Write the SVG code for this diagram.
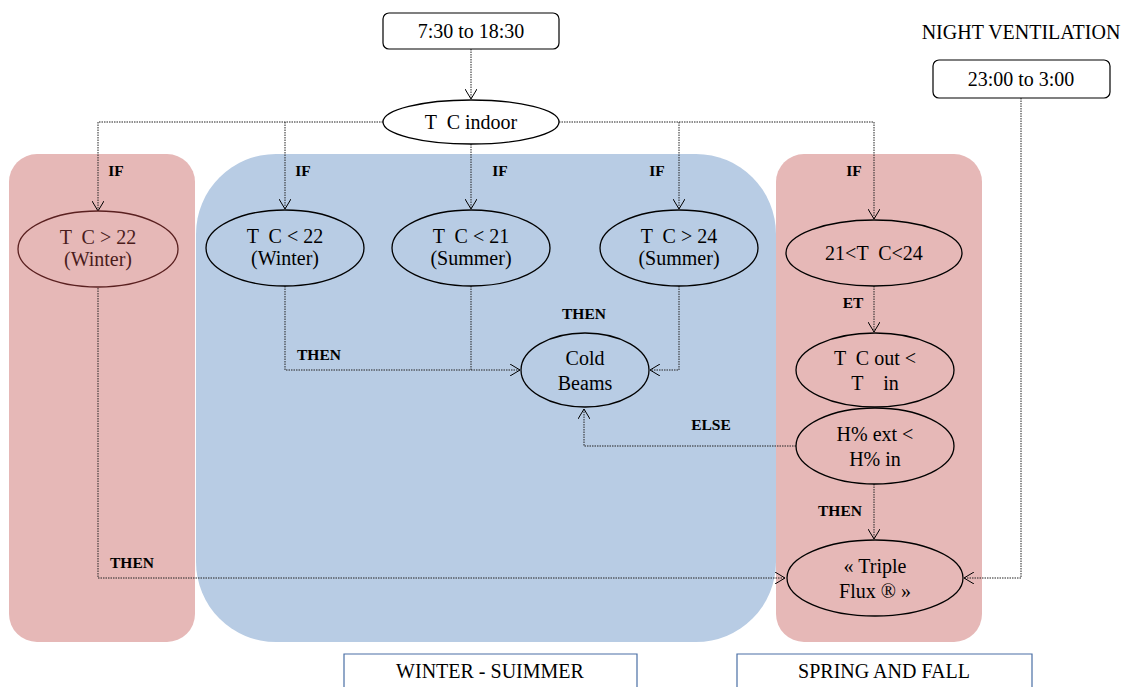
<svg xmlns="http://www.w3.org/2000/svg" width="1131" height="687" viewBox="0 0 1131 687">
<defs>
<marker id="ah" viewBox="0 0 10 12" refX="10" refY="6" markerWidth="10" markerHeight="12" markerUnits="userSpaceOnUse" orient="auto">
<path d="M0,0 L10,6 L0,12" fill="none" stroke="#000" stroke-width="1"/>
</marker>
</defs>
<style>
.t{font-family:"Liberation Serif","Times New Roman",serif;font-size:20px;fill:#000;text-anchor:middle;white-space:pre}
.lb{font-family:"Liberation Serif","Times New Roman",serif;font-size:15.5px;font-weight:bold;fill:#000;text-anchor:middle}
.el{fill:none;stroke:#000;stroke-width:1.3}
.box{fill:#fff;stroke:#000;stroke-width:1.2}
.c{fill:none;stroke:#222;stroke-width:1;stroke-dasharray:1.5 1}
.ca{fill:none;stroke:#222;stroke-width:1;stroke-dasharray:1.5 1;marker-end:url(#ah)}
.sb{fill:#fff;stroke:#4a6fa5;stroke-width:1.2}
</style>
<g id="panels">
<rect x="9" y="154" width="186" height="488" rx="28" fill="#e6b8b7"/>
<rect x="196" y="154" width="580" height="488" rx="80" fill="#b8cce4"/>
<rect x="776" y="154" width="206" height="488" rx="28" fill="#e6b8b7"/>
</g>
<g id="connectors">
<path class="ca" d="M471,49 V99"/>
<path class="ca" d="M383,122 H98 V211"/>
<path class="ca" d="M559,122 H874 V219"/>
<path class="ca" d="M285,122 V209"/>
<path class="ca" d="M471,144 V209"/>
<path class="ca" d="M679,122 V209"/>
<path class="ca" d="M874,286 V332"/>
<path class="ca" d="M874,484 V539"/>
<path class="ca" d="M285,286 V370 H520"/>
<path class="c" d="M471,286 V370"/>
<path class="ca" d="M679,286 V370 H650"/>
<path class="ca" d="M796,446 H584 V409"/>
<path class="ca" d="M98,288 V578 H785"/>
<path class="ca" d="M1021,98 V578 H964"/>
</g>
<g id="n-time"><rect class="box" x="383" y="13" width="176" height="36" rx="6"/><text class="t" x="471" y="38">7:30 to 18:30</text></g>
<g id="n-indoor"><ellipse cx="471" cy="122" rx="88" ry="22" fill="#fff" stroke="#000" stroke-width="1.3"/><text class="t" x="471" y="129">T  C indoor</text></g>
<g id="n-night"><text class="t" x="1021" y="39">NIGHT VENTILATION</text><rect class="box" x="933" y="60" width="177" height="38" rx="6"/><text class="t" x="1021" y="86">23:00 to 3:00</text></g>
<g id="n-w22"><ellipse cx="98" cy="249" rx="80" ry="38" fill="none" stroke="#5a2020" stroke-width="1.3"/><text class="t" x="98" y="244" style="fill:#4a1c1c">T  C &gt; 22</text><text class="t" x="98" y="266" style="fill:#4a1c1c">(Winter)</text></g>
<g id="n-lt22"><ellipse class="el" cx="285" cy="248" rx="79" ry="38"/><text class="t" x="285" y="243">T  C &lt; 22</text><text class="t" x="285" y="265">(Winter)</text></g>
<g id="n-lt21"><ellipse class="el" cx="471" cy="248" rx="79" ry="38"/><text class="t" x="471" y="243">T  C &lt; 21</text><text class="t" x="471" y="265">(Summer)</text></g>
<g id="n-gt24"><ellipse class="el" cx="679" cy="248" rx="79" ry="38"/><text class="t" x="679" y="243">T  C &gt; 24</text><text class="t" x="679" y="265">(Summer)</text></g>
<g id="n-mid"><ellipse class="el" cx="874" cy="253" rx="88" ry="33"/><text class="t" x="874" y="260">21&lt;T  C&lt;24</text></g>
<g id="n-tout"><ellipse class="el" cx="875" cy="370" rx="79" ry="37"/><text class="t" x="875" y="365">T  C out &lt;</text><text class="t" x="875" y="390">T    in</text></g>
<g id="n-hum"><ellipse class="el" cx="875" cy="446" rx="79" ry="38"/><text class="t" x="875" y="441">H% ext &lt;</text><text class="t" x="875" y="466">H% in</text></g>
<g id="n-flux"><ellipse class="el" cx="875" cy="578" rx="88" ry="38"/><text class="t" x="875" y="573">« Triple</text><text class="t" x="875" y="598">Flux ® »</text></g>
<g id="n-cold"><ellipse class="el" cx="585" cy="370" rx="64" ry="37"/><text class="t" x="585" y="365">Cold</text><text class="t" x="585" y="390">Beams</text></g>
<g id="labels">
<text class="lb" x="116" y="176">IF</text>
<text class="lb" x="303" y="176">IF</text>
<text class="lb" x="500" y="176">IF</text>
<text class="lb" x="657" y="176">IF</text>
<text class="lb" x="854" y="176">IF</text>
<text class="lb" x="584" y="319">THEN</text>
<text class="lb" x="319" y="360">THEN</text>
<text class="lb" x="711" y="430">ELSE</text>
<text class="lb" x="853" y="308">ET</text>
<text class="lb" x="840" y="516">THEN</text>
<text class="lb" x="132" y="568">THEN</text>
</g>
<g id="seasons">
<path class="sb" d="M344,690 V654 H637 V690"/>
<text class="t" x="490" y="678">WINTER - SUIMMER</text>
<path class="sb" d="M737,690 V654 H1032 V690"/>
<text class="t" x="884" y="678">SPRING AND FALL</text>
</g>
</svg>
